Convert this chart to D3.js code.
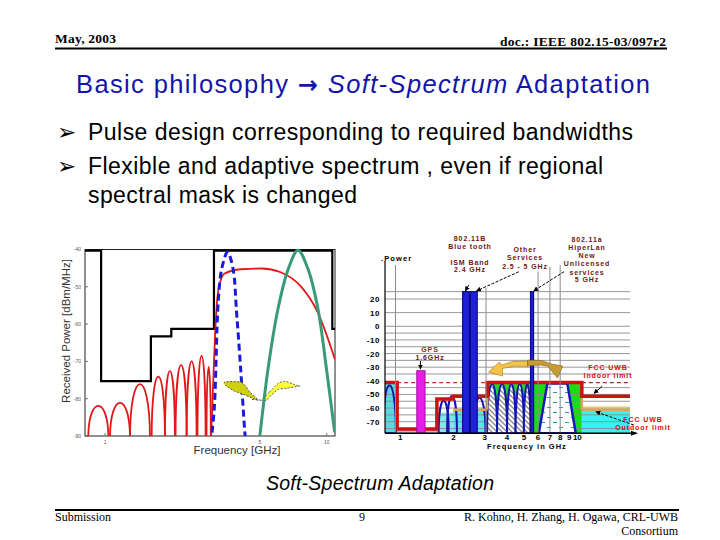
<!DOCTYPE html>
<html><head><meta charset="utf-8">
<script src="https://cdn.jsdelivr.net/npm/d3@7"></script>
<style>
body{margin:0;background:#fff;}
svg{display:block;}
</style></head>
<body>
<svg id="s" width="720" height="540"></svg>
<script>
// ---------------- DATA ----------------
// Left chart (received power, dBm/MHz vs GHz, log x)
const lTicksY = [-40,-50,-60,-70,-80,-90];
const lTicksX = [1,5,10];
const lMaskEdges  = [0.812,0.96,1.61,1.99,3.1,10.6,10.9];
const lMaskLevels = [-40.3,-75.3,-63.3,-61.3,-40.3,-61.3];
const redLobeStart = [0.84,1.053,1.296,1.623,1.863,2.08,2.334,2.613,2.87];
const redLobeEnd   = [1.035,1.296,1.594,1.863,2.066,2.334,2.588,2.842,3.0];
const redLobePeak  = [-81.9,-81.1,-76.1,-74.1,-72.6,-71.0,-70.0,-68.5,-71.5];
const redMainF = [3.0,3.08,3.14,3.2,3.3,3.45,4.1,5.1,6.2,7.7,9.1,10.9];
const redMainV = [-92,-75,-62,-54,-49,-46.5,-45.3,-45.1,-46.1,-50.1,-56.8,-69.5];
const blueDashF = [3.0,3.11,3.24,3.36,3.57,3.78,3.92,4.09,4.27,4.32];
const blueDashV = [-92,-82.6,-54.1,-45.2,-40.7,-45.2,-56.8,-71.9,-88.9,-92];
const greenF = [4.95,5.44,6.03,6.71,7.42,8.23,9.13,9.97,10.86];
const greenV = [-92,-71.9,-55.9,-45.2,-40.2,-45.2,-55.9,-71.9,-89];
const yellowLeft  = [[3.47,-75.5],[4.13,-75.6],[4.50,-78.2],[4.91,-80.4],[4.27,-79.0],[3.85,-78.0],[3.52,-76.6]];
const yellowRight = [[5.08,-80.4],[5.53,-78.2],[6.04,-75.9],[6.47,-75.3],[7.06,-76.1],[7.43,-76.6],[6.59,-77.2],[6.04,-77.5],[5.63,-79.0],[5.35,-80.4]];

// Right chart (power vs frequency in GHz, log x)
const rTicksY = [20,10,0,-10,-20,-30,-40,-50,-60,-70];
const rGridY  = [25.4,20,10,0,-5,-10,-15,-20,-25,-30,-35,-45,-50,-55,-60,-65,-70,-75];
const rTicksX = [1,2,3,4,5,6,7,8,9,10];
const vGridF   = [0.94,3.05,6,7,8];
const vGridTop = [45,28,40,43.5,45];
const rBottom = -78.5, rRight = 20;
const indoorEdges  = [0.82,0.96,1.61,1.99,3.1,10.6,20];
const indoorLevels = [-41.3,-75.3,-53.3,-51.3,-41.3,-51.3];
const outdoorSegF0 = [1.99,10.6];
const outdoorSegF1 = [3.1,20];
const outdoorLevel = -61.3;
const fillF0  = [0.82,0.96,1.61,1.99,3.1,10.6,10.6];
const fillF1  = [0.96,1.61,1.99,3.1,10.6,20,20];
const fillTop = [-41.3,-75.6,-63.3,-61.3,-41.3,-58.3,-61.3];
const fillBot = [-78.5,-78.5,-78.5,-78.5,-78.5,-61.3,-78.5];
const fillCol = ['#5ad8e0','#a9c4c6','#7fe6ea','#58e4ec','#12e012','#f6eaa8','#3af0f4'];
const archStart = [0.80,1.647,1.838,2.586,3.093,3.52,4.01,4.48,4.99];
const archEnd   = [0.945,1.877,2.09,3.03,3.52,4.01,4.48,4.99,5.44];
const archPeak  = [-42.4,-54.1,-50.4,-51.7,-41.5,-41.5,-41.5,-41.5,-41.5];
const archHatch = [false,false,false,false,true,true,true,true,true];
const trapF = [6.06,6.77,8.77,9.79];
const trapV = [-78.5,-41.9,-41.9,-78.5];
const barF0  = [2.25,2.49,5.44];
const barF1  = [2.46,2.72,5.66];
const barTop = 25.4;
const gpsF = [1.24,1.38], gpsTop = -32.6;
const goldLeft  = [[5.30,-25.5],[4.30,-25.9],[3.73,-28.4],[3.63,-26.2],[3.15,-33.6],[3.78,-36.5],[3.78,-31.0],[4.42,-29.2],[5.23,-29.5]];
const goldRight = [[5.23,-24.8],[6.28,-25.1],[7.14,-27.7],[8.26,-29.2],[7.73,-38.0],[6.79,-29.2],[6.19,-28.4],[5.23,-29.2]];
// annotation pointer arrows [f0,v0,f1,v1,dashed]
const pointers = [
  [2.44,30.3,2.33,25.9,false],
  [4.67,40.0,2.69,25.9,true],
  [8.41,40.0,5.66,25.9,true],
  [1.30,-25.5,1.30,-31.4,false],
  [13.8,-44.0,12.4,-49.2,false],
  [20.8,-72.4,12.7,-62.7,true]
];

// ---------------- DRAW ----------------
const svg = d3.select('#s');
const defs = svg.append('defs');
const SANS = "'Liberation Sans', Arial, sans-serif";
const SERIF = "'Liberation Serif', 'Times New Roman', serif";

// header
svg.append('text').attr('x',55).attr('y',43).attr('font-family',SERIF).attr('font-weight','bold')
  .attr('font-size',13.5).attr('textLength',61).text('May, 2003');
svg.append('text').attr('x',500).attr('y',46).attr('font-family',SERIF)
  .attr('font-weight','bold').attr('font-size',13.5).attr('textLength',166).text('doc.: IEEE 802.15-03/097r2');
svg.append('line').attr('x1',55).attr('x2',667).attr('y1',48.5).attr('y2',48.5).attr('stroke','#000').attr('stroke-width',2);

// title
const title = svg.append('text').attr('x',76).attr('y',93)
  .attr('font-family',SANS).attr('font-size',25.5).attr('fill','#1414a8').attr('textLength',574);
title.append('tspan').text('Basic philosophy ');
title.append('tspan').attr('font-family',"'DejaVu Sans'").attr('font-weight','bold').attr('font-size',24).text('\u2192');
title.append('tspan').attr('font-style','italic').text(' Soft-Spectrum');
title.append('tspan').text(' Adaptation');

// bullets
const bullets = [[140,'Pulse design corresponding to required bandwidths',true,545],
                 [174,'Flexible and adaptive spectrum , even if regional',true,515],
                 [203,'spectral mask is changed',false,269]];
bullets.forEach(b=>{
  if(b[2]) svg.append('text').attr('x',57).attr('y',b[0]).attr('font-family',"'DejaVu Sans'")
     .attr('font-size',23).text('\u27A2');
  svg.append('text').attr('x',88).attr('y',b[0]).attr('font-family',SANS).attr('font-size',23)
     .attr('textLength',b[3]).text(b[1]);
});

// caption
svg.append('text').attr('x',266).attr('y',490).attr('font-family',SANS)
  .attr('font-style','italic').attr('font-size',19.5).attr('textLength',228).text('Soft-Spectrum Adaptation');

// footer
svg.append('line').attr('x1',55).attr('x2',679).attr('y1',510).attr('y2',510).attr('stroke','#000').attr('stroke-width',2);
svg.append('text').attr('x',55).attr('y',521).attr('font-family',SERIF).attr('font-size',12).text('Submission');
svg.append('text').attr('x',362).attr('y',521).attr('text-anchor','middle').attr('font-family',SERIF).attr('font-size',12).text('9');
svg.append('text').attr('x',678).attr('y',521).attr('text-anchor','end').attr('font-family',SERIF).attr('font-size',12).text('R. Kohno, H. Zhang, H. Ogawa, CRL-UWB');
svg.append('text').attr('x',678).attr('y',535).attr('text-anchor','end').attr('font-family',SERIF).attr('font-size',12).text('Consortium');

// ===== LEFT CHART =====
const xL = d3.scaleLog().domain([0.812,10.9]).range([85,335]);
const yL = d3.scaleLinear().domain([-90,-40]).range([436,249.5]);
defs.append('clipPath').attr('id','clipL').append('rect')
  .attr('x',85).attr('y',247).attr('width',250).attr('height',189);
const gL = svg.append('g');
gL.append('rect').attr('x',85).attr('y',249.5).attr('width',250).attr('height',186.5)
  .attr('fill','none').attr('stroke','#222').attr('stroke-width',1);
gL.selectAll('.ty').data(lTicksY).join('line').attr('x1',85).attr('x2',88)
  .attr('y1',d=>yL(d)).attr('y2',d=>yL(d)).attr('stroke','#555').attr('stroke-width',0.8);
gL.selectAll('.tyl').data(lTicksY).join('text').attr('x',81).attr('y',d=>yL(d)+1.8)
  .attr('text-anchor','end').attr('font-family',SANS).attr('font-size',5).attr('fill','#555').text(d=>d);
gL.selectAll('.tx').data(lTicksX).join('line').attr('x1',d=>xL(d)).attr('x2',d=>xL(d))
  .attr('y1',436).attr('y2',433).attr('stroke','#555').attr('stroke-width',0.8);
gL.selectAll('.txl').data(lTicksX).join('text').attr('x',d=>xL(d)).attr('y',444)
  .attr('text-anchor','middle').attr('font-family',SANS).attr('font-size',5).attr('fill','#555').text(d=>d);
gL.append('text').attr('transform','translate(70,331) rotate(-90)').attr('text-anchor','middle')
  .attr('font-family',SANS).attr('font-size',11.5).attr('fill','#333').text('Received Power [dBm/MHz]');
gL.append('text').attr('x',237).attr('y',454).attr('text-anchor','middle')
  .attr('font-family',SANS).attr('font-size',11.5).attr('fill','#333').text('Frequency [GHz]');

const cL = gL.append('g').attr('clip-path','url(#clipL)');
const maskPts = lMaskLevels.map((v,i)=>[lMaskEdges[i],v]);
maskPts.push([lMaskEdges[lMaskEdges.length-1], lMaskLevels[lMaskLevels.length-1]]);
cL.append('path').attr('d', d3.line().x(d=>xL(d[0])).y(d=>yL(d[1])).curve(d3.curveStepAfter)(maskPts))
  .attr('fill','none').attr('stroke','#000').attr('stroke-width',2.2);
function archPath(x0,x1,yb,yp,k){
  const p = d3.path();
  const yc = yb - (yb-yp)*k;
  p.moveTo(x0,yb); p.bezierCurveTo(x0,yc,x1,yc,x1,yb);
  return p.toString();
}
redLobeStart.forEach((s,i)=>{
  cL.append('path').attr('d',archPath(xL(s),xL(redLobeEnd[i]),yL(-90)+2,yL(redLobePeak[i]),4/3))
    .attr('fill','none').attr('stroke','#e01818').attr('stroke-width',1.8);
});
cL.append('path').attr('d', d3.line().x(d=>xL(d)).y((d,i)=>yL(redMainV[i])).curve(d3.curveMonotoneX)(redMainF))
  .attr('fill','none').attr('stroke','#e01818').attr('stroke-width',1.8);
cL.append('path').attr('d', d3.line().x(d=>xL(d)).y((d,i)=>yL(blueDashV[i])).curve(d3.curveCatmullRom)(blueDashF))
  .attr('fill','none').attr('stroke','#1a1ad8').attr('stroke-width',3).attr('stroke-dasharray','7,4');
const polyL = d3.line().x(d=>xL(d[0])).y(d=>yL(d[1])).curve(d3.curveCardinalClosed.tension(0.4));
cL.append('path').attr('d',polyL(yellowLeft)).attr('fill','#cfcf10').attr('stroke','#333')
  .attr('stroke-width',0.8).attr('stroke-dasharray','2,1.5');
cL.append('path').attr('d',polyL(yellowRight)).attr('fill','#ffff3a').attr('stroke','#333')
  .attr('stroke-width',0.8).attr('stroke-dasharray','2,1.5');
cL.append('line').attr('x1',xL(7.43)).attr('x2',xL(7.7)).attr('y1',yL(-76.6)).attr('y2',yL(-76.6))
  .attr('stroke','#333').attr('stroke-width',0.8).attr('stroke-dasharray','2,1.5');
cL.append('line').attr('x1',xL(4.6)).attr('x2',xL(5.1)).attr('y1',yL(-80.2)).attr('y2',yL(-80.4))
  .attr('stroke','#333').attr('stroke-width',0.8).attr('stroke-dasharray','2,1.5');
cL.append('path').attr('d', d3.line().x(d=>xL(d)).y((d,i)=>yL(greenV[i])).curve(d3.curveCatmullRom)(greenF))
  .attr('fill','none').attr('stroke','#3a9a78').attr('stroke-width',3);

// ===== RIGHT CHART =====
const xR = d3.scaleLog().domain([0.82,22]).range([385,638]);
const yR = d3.scaleLinear().domain([-70,20]).range([421.7,299]);
const gR = svg.append('g');
const hatch = defs.append('pattern').attr('id','hatch').attr('patternUnits','userSpaceOnUse')
  .attr('width',5).attr('height',5);
hatch.append('rect').attr('width',5).attr('height',5).attr('fill','#fff');
hatch.append('path').attr('d','M-1,-1 L6,6 M-1,4 L1,6 M4,-1 L6,1').attr('stroke','#8a8a8a').attr('stroke-width',1.3);
const dashes = defs.append('pattern').attr('id','dashes').attr('patternUnits','userSpaceOnUse')
  .attr('width',12).attr('height',10);
dashes.append('rect').attr('width',12).attr('height',10).attr('fill','#fff');
dashes.append('path').attr('d','M1,2.5 H5 M7,7.5 H11').attr('stroke','#2a9a9a').attr('stroke-width',1);
defs.append('clipPath').attr('id','clipR').append('rect')
  .attr('x',385).attr('y',250).attr('width',245).attr('height',yR(rBottom)-250);

const cR = gR.append('g').attr('clip-path','url(#clipR)');
fillF0.forEach((f0,i)=>{
  cR.append('rect').attr('x',xR(f0)).attr('width',xR(fillF1[i])-xR(f0))
    .attr('y',yR(fillTop[i])).attr('height',yR(fillBot[i])-yR(fillTop[i])).attr('fill',fillCol[i]);
});
cR.selectAll('.hg').data(rGridY).join('line').attr('x1',xR(0.82)).attr('x2',xR(rRight))
  .attr('y1',d=>yR(d)).attr('y2',d=>yR(d)).attr('stroke','#8c8c8c').attr('stroke-width',0.9);
vGridF.forEach((f,i)=>{
  gR.append('line').attr('x1',xR(f)).attr('x2',xR(f)).attr('y1',yR(vGridTop[i])).attr('y2',yR(rBottom))
    .attr('stroke','#8c8c8c').attr('stroke-width',1);
});
archStart.forEach((s,i)=>{
  cR.append('path').attr('d',archPath(xR(s),xR(archEnd[i]),yR(rBottom),yR(archPeak[i]),1.3)+'Z')
    .attr('fill',archHatch[i]?'url(#hatch)':'none').attr('stroke','#1414b0').attr('stroke-width',2);
});
cR.append('path').attr('d', d3.line().x(d=>xR(d)).y((d,i)=>yR(trapV[i]))(trapF)+'Z')
  .attr('fill','url(#dashes)').attr('stroke','#1818b8').attr('stroke-width',2.5);
barF0.forEach((f0,i)=>{
  gR.append('rect').attr('x',xR(f0)).attr('width',xR(barF1[i])-xR(f0)).attr('y',yR(barTop))
    .attr('height',yR(rBottom)-yR(barTop)).attr('fill','#2020d8').attr('stroke','#0c0c8c').attr('stroke-width',1.2);
});
gR.append('rect').attr('x',xR(gpsF[0])).attr('width',xR(gpsF[1])-xR(gpsF[0])).attr('y',yR(gpsTop))
  .attr('height',yR(rBottom)-yR(gpsTop)).attr('fill','#e81ce8').attr('stroke','#a010a0').attr('stroke-width',1);
[[0.96,3.1,'#c03030'],[10.6,20,'#704040']].forEach(s=>{
  cR.append('line').attr('x1',xR(s[0])).attr('x2',xR(s[1])).attr('y1',yR(-41.3)).attr('y2',yR(-41.3))
    .attr('stroke',s[2]).attr('stroke-width',1.2).attr('stroke-dasharray','4,3');
});
outdoorSegF0.forEach((f0,i)=>{
  cR.append('line').attr('x1',xR(f0)).attr('x2',xR(outdoorSegF1[i])).attr('y1',yR(outdoorLevel)).attr('y2',yR(outdoorLevel))
    .attr('stroke','#e0a060').attr('stroke-width',2.5);
});
cR.append('line').attr('x1',xR(3.1)).attr('x2',xR(3.1)).attr('y1',yR(-61.3)).attr('y2',yR(-41.3)).attr('stroke','#e0a060').attr('stroke-width',2.5);
cR.append('line').attr('x1',xR(10.6)).attr('x2',xR(10.6)).attr('y1',yR(-51.3)).attr('y2',yR(-61.3)).attr('stroke','#e0a060').attr('stroke-width',2.5);
const indPts = indoorLevels.map((v,i)=>[indoorEdges[i],v]);
indPts.push([indoorEdges[indoorEdges.length-1], indoorLevels[indoorLevels.length-1]]);
cR.append('path').attr('d', d3.line().x(d=>xR(d[0])).y(d=>yR(d[1])).curve(d3.curveStepAfter)(indPts))
  .attr('fill','none').attr('stroke','#cc1212').attr('stroke-width',3.5);
gR.append('line').attr('x1',385).attr('x2',385).attr('y1',yR(45)-4).attr('y2',yR(rBottom)).attr('stroke','#000').attr('stroke-width',1.2);
gR.append('line').attr('x1',385).attr('x2',xR(21.5)).attr('y1',yR(rBottom)).attr('y2',yR(rBottom)).attr('stroke','#000').attr('stroke-width',1.5);
gR.append('path').attr('d',`M${xR(22)},${yR(rBottom)} l-7,-2.5 l0,5 Z`).attr('fill','#000');
gR.selectAll('.ryl').data(rTicksY).join('text').attr('x',380).attr('y',d=>yR(d)+3)
  .attr('text-anchor','end').attr('font-family',SANS).attr('font-weight','bold').attr('font-size',8)
  .attr('letter-spacing',0.6).text(d=>d);
gR.selectAll('.rxl').data(rTicksX).join('text').attr('x',d=>xR(d)).attr('y',440)
  .attr('text-anchor','middle').attr('font-family',SANS).attr('font-weight','bold').attr('font-size',8).text(d=>d);
gR.append('text').attr('x',527).attr('y',449).attr('text-anchor','middle').attr('font-family',SANS)
  .attr('font-weight','bold').attr('font-size',7.5).attr('letter-spacing',1).text('Frequency in GHz');
gR.append('text').attr('x',381).attr('y',261).attr('font-family',SANS)
  .attr('font-weight','bold').attr('font-size',7.5).attr('letter-spacing',1.1).text('.Power');
const polyR = d3.line().x(d=>xR(d[0])).y(d=>yR(d[1])).curve(d3.curveLinearClosed);
gR.append('path').attr('d',polyR(goldLeft)).attr('fill','#f4c446').attr('stroke','#a07818').attr('stroke-width',0.6);
gR.append('path').attr('d',polyR(goldRight)).attr('fill','#c89c34').attr('stroke','#806010').attr('stroke-width',0.6);
defs.append('marker').attr('id','ah').attr('viewBox','0 0 10 10').attr('refX',9).attr('refY',5)
  .attr('markerWidth',5).attr('markerHeight',5).attr('orient','auto')
  .append('path').attr('d','M0,0 L10,5 L0,10 Z').attr('fill','#000');
pointers.forEach(p=>{
  gR.append('line').attr('x1',xR(p[0])).attr('y1',yR(p[1])).attr('x2',xR(p[2])).attr('y2',yR(p[3]))
    .attr('stroke','#000').attr('stroke-width',1).attr('stroke-dasharray',p[4]?'3,1.5':null)
    .attr('marker-end','url(#ah)');
});
const notes = [
  [470,241,'802.11B','#6e1616'],[470,249,'Blue tooth','#6e1616'],
  [470,265,'ISM Band','#6e1616'],[470,272,'2.4 GHz','#6e1616'],
  [525,252,'Other','#6e1616'],[525,260,'Services','#6e1616'],[525,268.5,'2.5 - 5 GHz','#6e1616'],
  [587,242,'802.11a','#6e1616'],[587,249.5,'HiperLan','#6e1616'],[587,257.5,'New','#6e1616'],
  [587,266,'Unlicensed','#6e1616'],[587,274.5,'services','#6e1616'],[587,282,'5 GHz','#6e1616'],
  [430,352,'GPS','#b01818'],[430,360,'1.6GHz','#6e1616'],
  [608,369.5,'FCC  UWB','#d41010'],[608,377.5,'Indoor limit','#d41010'],
  [643,421.5,'FCC  UWB','#d41010'],[643,430,'Outdoor limit','#d41010']
];
notes.forEach(n=>{
  gR.append('text').attr('x',n[0]).attr('y',n[1]).attr('text-anchor','middle').attr('font-family',SANS)
    .attr('font-weight','bold').attr('font-size',7).attr('letter-spacing',0.9).attr('fill',n[3]).text(n[2]);
});
</script>
</body></html>
